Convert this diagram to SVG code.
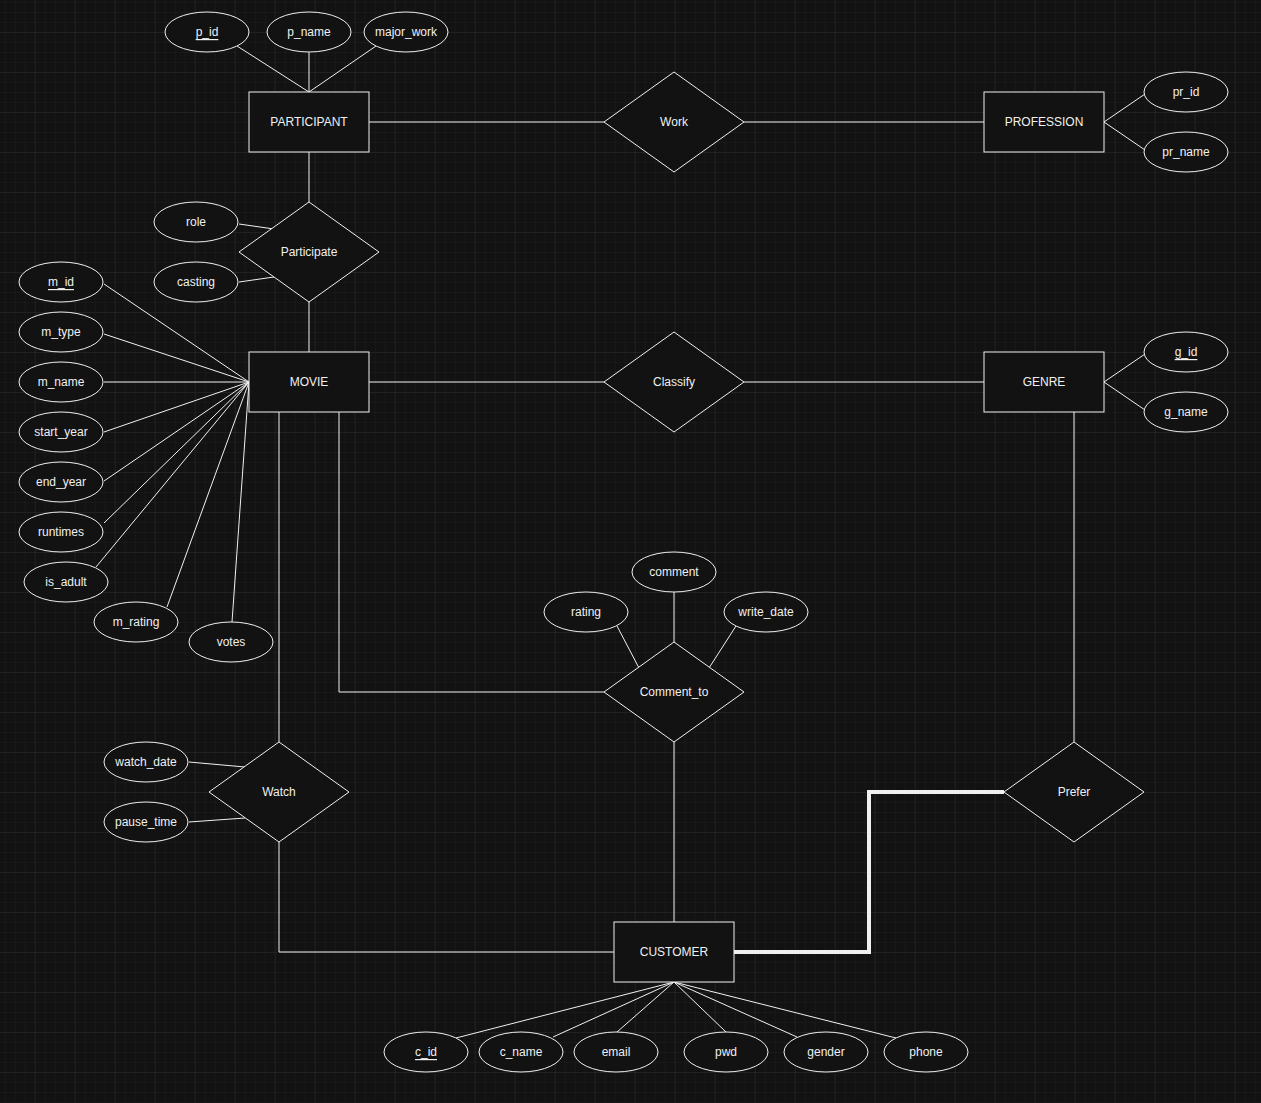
<svg xmlns="http://www.w3.org/2000/svg" width="1261" height="1103" viewBox="0 0 1261 1103">
<defs>
<pattern id="minor" x="4.7" y="2" width="10" height="10" patternUnits="userSpaceOnUse"><path d="M0 0H10M0 0V10" stroke="#1d1d1d" stroke-width="1" fill="none"/></pattern>
<pattern id="major" x="34.7" y="32" width="40" height="40" patternUnits="userSpaceOnUse"><path d="M0 0H40M0 0V40" stroke="#2a2a2a" stroke-width="1" fill="none"/></pattern>
</defs>
<style>
.s{fill:#121212;stroke:#f0f0f0;stroke-width:1}
.t{fill:#f0f0f0;font-family:"Liberation Sans",Arial,sans-serif;font-size:12px;text-anchor:middle;dominant-baseline:central}
.u{text-decoration:underline}
.c{fill:none;stroke:#f0f0f0;stroke-width:1}
</style>
<rect width="1261" height="1103" fill="#121212"/>
<rect width="1261" height="1103" fill="url(#minor)"/>
<rect width="1261" height="1103" fill="url(#major)"/>
<g id="connectors" class="c">
<path d="M237 46L309 92M309 52V92M376 46L309 92"/>
<path d="M369 122H604M744 122H984M1104 122L1145 94M1104 122L1145 150"/>
<path d="M309 152V202M309 302V352M239 224L274 229M239 282L274 277"/>
<path d="M369 382H604M744 382H984M1104 382L1145 354M1104 382L1145 410"/>
<path d="M249 382L104 284M249 382L104 334M249 382H104M249 382L104 432M249 382L104 481M249 382L104 523M249 382L96 567M249 382L167 607M249 382L232 622"/>
<path d="M339 412V692H604M674 592V642M617 626L639 668M736 626L709 668"/>
<path d="M279 412V742M189 762L245 767M189 822L245 818M279 842V952H614M674 742V922M1074 412V742"/>
<path d="M674 982L456 1038M674 982L553 1037M674 982L617 1032M674 982L726 1032M674 982L797 1037M674 982L896 1038"/>
<path d="M734 952H869V792H1004" stroke-width="4"/>
</g>
<g id="p_id"><ellipse class="s" cx="207" cy="32" rx="42" ry="20"/><text class="t u" x="207" y="32">p_id</text></g>
<g id="p_name"><ellipse class="s" cx="309" cy="32" rx="42" ry="20"/><text class="t" x="309" y="32">p_name</text></g>
<g id="major_work"><ellipse class="s" cx="406" cy="32" rx="42" ry="20"/><text class="t" x="406" y="32">major_work</text></g>
<g id="PARTICIPANT"><rect class="s" x="249" y="92" width="120" height="60"/><text class="t" x="309" y="122">PARTICIPANT</text></g>
<g id="Work"><path class="s" d="M604 122L674 72L744 122L674 172Z"/><text class="t" x="674" y="122">Work</text></g>
<g id="PROFESSION"><rect class="s" x="984" y="92" width="120" height="60"/><text class="t" x="1044" y="122">PROFESSION</text></g>
<g id="pr_id"><ellipse class="s" cx="1186" cy="92" rx="42" ry="20"/><text class="t" x="1186" y="92">pr_id</text></g>
<g id="pr_name"><ellipse class="s" cx="1186" cy="152" rx="42" ry="20"/><text class="t" x="1186" y="152">pr_name</text></g>
<g id="Participate"><path class="s" d="M239 252L309 202L379 252L309 302Z"/><text class="t" x="309" y="252">Participate</text></g>
<g id="role"><ellipse class="s" cx="196" cy="222" rx="42" ry="20"/><text class="t" x="196" y="222">role</text></g>
<g id="casting"><ellipse class="s" cx="196" cy="282" rx="42" ry="20"/><text class="t" x="196" y="282">casting</text></g>
<g id="MOVIE"><rect class="s" x="249" y="352" width="120" height="60"/><text class="t" x="309" y="382">MOVIE</text></g>
<g id="Classify"><path class="s" d="M604 382L674 332L744 382L674 432Z"/><text class="t" x="674" y="382">Classify</text></g>
<g id="GENRE"><rect class="s" x="984" y="352" width="120" height="60"/><text class="t" x="1044" y="382">GENRE</text></g>
<g id="g_id"><ellipse class="s" cx="1186" cy="352" rx="42" ry="20"/><text class="t u" x="1186" y="352">g_id</text></g>
<g id="g_name"><ellipse class="s" cx="1186" cy="412" rx="42" ry="20"/><text class="t" x="1186" y="412">g_name</text></g>
<g id="m_id"><ellipse class="s" cx="61" cy="282" rx="42" ry="20"/><text class="t u" x="61" y="282">m_id</text></g>
<g id="m_type"><ellipse class="s" cx="61" cy="332" rx="42" ry="20"/><text class="t" x="61" y="332">m_type</text></g>
<g id="m_name"><ellipse class="s" cx="61" cy="382" rx="42" ry="20"/><text class="t" x="61" y="382">m_name</text></g>
<g id="start_year"><ellipse class="s" cx="61" cy="432" rx="42" ry="20"/><text class="t" x="61" y="432">start_year</text></g>
<g id="end_year"><ellipse class="s" cx="61" cy="482" rx="42" ry="20"/><text class="t" x="61" y="482">end_year</text></g>
<g id="runtimes"><ellipse class="s" cx="61" cy="532" rx="42" ry="20"/><text class="t" x="61" y="532">runtimes</text></g>
<g id="is_adult"><ellipse class="s" cx="66" cy="582" rx="42" ry="20"/><text class="t" x="66" y="582">is_adult</text></g>
<g id="m_rating"><ellipse class="s" cx="136" cy="622" rx="42" ry="20"/><text class="t" x="136" y="622">m_rating</text></g>
<g id="votes"><ellipse class="s" cx="231" cy="642" rx="42" ry="20"/><text class="t" x="231" y="642">votes</text></g>
<g id="comment"><ellipse class="s" cx="674" cy="572" rx="42" ry="20"/><text class="t" x="674" y="572">comment</text></g>
<g id="rating"><ellipse class="s" cx="586" cy="612" rx="42" ry="20"/><text class="t" x="586" y="612">rating</text></g>
<g id="write_date"><ellipse class="s" cx="766" cy="612" rx="42" ry="20"/><text class="t" x="766" y="612">write_date</text></g>
<g id="Comment_to"><path class="s" d="M604 692L674 642L744 692L674 742Z"/><text class="t" x="674" y="692">Comment_to</text></g>
<g id="Watch"><path class="s" d="M209 792L279 742L349 792L279 842Z"/><text class="t" x="279" y="792">Watch</text></g>
<g id="watch_date"><ellipse class="s" cx="146" cy="762" rx="42" ry="20"/><text class="t" x="146" y="762">watch_date</text></g>
<g id="pause_time"><ellipse class="s" cx="146" cy="822" rx="42" ry="20"/><text class="t" x="146" y="822">pause_time</text></g>
<g id="Prefer"><path class="s" d="M1004 792L1074 742L1144 792L1074 842Z"/><text class="t" x="1074" y="792">Prefer</text></g>
<g id="CUSTOMER"><rect class="s" x="614" y="922" width="120" height="60"/><text class="t" x="674" y="952">CUSTOMER</text></g>
<g id="c_id"><ellipse class="s" cx="426" cy="1052" rx="42" ry="20"/><text class="t u" x="426" y="1052">c_id</text></g>
<g id="c_name"><ellipse class="s" cx="521" cy="1052" rx="42" ry="20"/><text class="t" x="521" y="1052">c_name</text></g>
<g id="email"><ellipse class="s" cx="616" cy="1052" rx="42" ry="20"/><text class="t" x="616" y="1052">email</text></g>
<g id="pwd"><ellipse class="s" cx="726" cy="1052" rx="42" ry="20"/><text class="t" x="726" y="1052">pwd</text></g>
<g id="gender"><ellipse class="s" cx="826" cy="1052" rx="42" ry="20"/><text class="t" x="826" y="1052">gender</text></g>
<g id="phone"><ellipse class="s" cx="926" cy="1052" rx="42" ry="20"/><text class="t" x="926" y="1052">phone</text></g>
</svg>
